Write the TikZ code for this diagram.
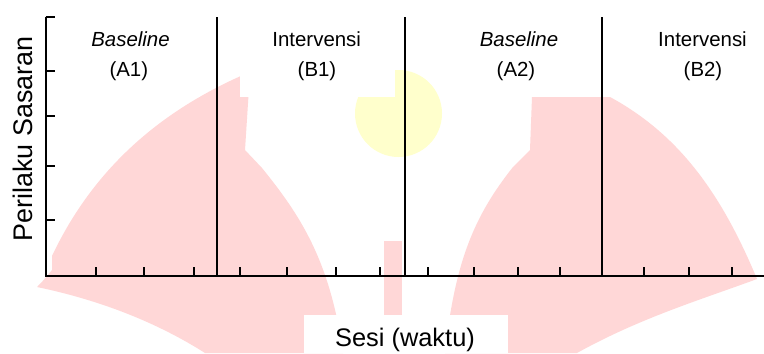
\documentclass[tikz,border=0pt]{standalone}
\usepackage{fontspec}
\setmainfont{Liberation Sans}
\definecolor{wmpink}{RGB}{255,215,215}
\definecolor{wmyellow}{RGB}{255,255,204}
\begin{document}
\begin{tikzpicture}[x=1bp,y=-1bp,
  axisline/.style={line width=2bp},
  tickmark/.style={line width=1.8bp},
  phaseline/.style={line width=2bp},
  panel/.style={fill=white},
  phasetxt/.style={font=\fontsize{20.5}{24}\selectfont,anchor=base,inner sep=0pt},
  axistxt/.style={anchor=base,inner sep=0pt}]

\useasboundingbox (0,0) rectangle (764,353);
\fill[white] (0,0) rectangle (764,353);

% background emblem shapes
\fill[wmpink] (37,287) .. controls (42,282) .. (52,270) -- (52,256)
  .. controls (95,165) and (165,108) .. (250,72) -- (245,150) -- (262,168)
  .. controls (300,215) and (330,260) .. (343,353) -- (205,353)
  .. controls (150,318) and (90,298) .. (37,287) -- cycle;
\fill[wmpink] (532,97) -- (530,150) -- (513,167)
  .. controls (475,215) and (455,260) .. (445,353) -- (577,353)
  .. controls (640,318) and (700,300) .. (757,279)
  .. controls (722,195) and (680,135) .. (610,97) -- cycle;
\fill[wmpink] (384,241) rectangle (402,353);
\fill[wmyellow] (398.5,113.5) circle (43.5);

% white panels behind the labels
\fill[panel] (60,15) rectangle (200,97);
\fill[panel] (240,15) rectangle (395,97);
\fill[panel] (450,15) rectangle (600,97);
\fill[panel] (606,15) rectangle (762,97);
\fill[panel] (304,315) rectangle (508,353);

% axes
\coordinate (ytop) at (45.5,17);
\coordinate (origin) at (45.5,276);
\coordinate (xend) at (764,276);
\draw[axisline] (ytop) -- (origin) -- (xend);
\foreach \y in {17,71,116,166,220}
  \draw[tickmark] (45.5,\y) -- ++(9,0);
\foreach \x in {95.7,144,194,240,286.7,335.7,380,428.3,474.3,517.7,560,644.3,689.3,732.3}
  \draw[tickmark] (\x,276) -- ++(0,-9);

% phase change lines
\foreach \x/\n in {217.3/p1,404.5/p2,601.7/p3}{
  \coordinate (\n top) at (\x,17);
  \coordinate (\n bot) at (\x,276);
  \draw[phaseline] (\n top) -- (\n bot);
}

% phase labels
\node[phasetxt] (a1name) at (130.5,46.7) {\itshape Baseline};
\node[phasetxt] (a1code) at (128.8,76.7) {(A1)};
\node[phasetxt] (b1name) at (316.7,46.7) {Intervensi};
\node[phasetxt] (b1code) at (317,76.7) {(B1)};
\node[phasetxt] (a2name) at (519,46.7) {\itshape Baseline};
\node[phasetxt] (a2code) at (516,76.7) {(A2)};
\node[phasetxt] (b2name) at (702.5,46.7) {Intervensi};
\node[phasetxt] (b2code) at (703,76.7) {(B2)};

% axis titles
\node[axistxt,font=\fontsize{27}{30}\selectfont,rotate=90] (ytitle) at (32.3,139) {Perilaku Sasaran};
\node[axistxt,font=\fontsize{25.5}{30}\selectfont] (xtitle) at (405,346.7) {Sesi (waktu)};
\end{tikzpicture}
\end{document}
